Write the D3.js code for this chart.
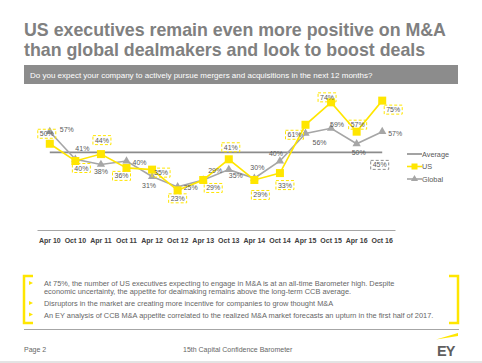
<!DOCTYPE html>
<html><head><meta charset="utf-8">
<script src="https://cdn.jsdelivr.net/npm/d3@7"></script>
<style>
html,body{margin:0;padding:0;background:#fff;}
svg{display:block;font-family:"Liberation Sans",Arial,sans-serif;}
</style></head>
<body><svg id="c" width="482" height="363"></svg>
<script>
const categories = ["Apr 10","Oct 10","Apr 11","Oct 11","Apr 12","Oct 12","Apr 13","Oct 13","Apr 14","Oct 14","Apr 15","Oct 15","Apr 16","Oct 16"];
const usValues = [50,40,44,36,35,23,29,41,29,33,61,74,57,75];
const globalValues = [57,41,38,40,31,25,29,35,30,40,56,59,50,57];
const averageValue = 45;
const seriesNames = ["Average","US","Global"];
// label offsets from the point (layout only)
const usLabelOff = [[-3,-10],[6,7],[1,-14],[-5,8],[9,3],[0,8],[10,8],[2,-12],[6,15],[5,12],[-11,10],[-4,-5],[1,-7],[11,9]];
const glLabelOff = [[17,-2],[7,-11],[0,7],[13,1],[-3,9],[13,1],[12,-9],[7,6],[3,-11],[-4,-8],[14,9],[6,-4],[2,9],[13,2]];
const avgLabelOff = [-2.5,12.5];

const svg = d3.select("#c");
const Y = "#FFE600", G = "#A6A6A6", AVG = "#8C8C8C", TXT = "#595959";

// Title
const title = svg.append("g").attr("fill","#808080").attr("font-weight","bold").attr("font-size","17.8px");
title.append("text").attr("x",24).attr("y",36).text("US executives remain even more positive on M&A");
title.append("text").attr("x",24).attr("y",55.5).text("than global dealmakers and look to boost deals");
svg.append("rect").attr("x",24).attr("y",65).attr("width",434).attr("height",19).attr("fill","#8C8C8C");
svg.append("text").attr("x",30).attr("y",77.5).attr("fill","#fff").attr("font-size","8px")
  .text("Do you expect your company to actively pursue mergers and acquisitions in the next 12 months?");

// Scales
const x = d3.scaleBand().domain(categories).range([37,395]);
const cx = d => x(d) + x.bandwidth()/2;
const y = d3.scaleLinear().domain([0,80]).range([230,92]);

// x axis
const xAxis = svg.append("g").attr("transform","translate(0,230)")
  .call(d3.axisBottom(x).tickSize(0).tickPadding(8));
xAxis.select(".domain").attr("stroke","#A6A6A6").attr("stroke-width",1);
xAxis.selectAll("text").attr("font-size","7px").attr("font-weight","bold").attr("fill","#404040")
  .attr("font-family","'Liberation Sans',Arial,sans-serif");

// average line
svg.append("line").attr("x1",cx(categories[0])).attr("x2",cx(categories[categories.length-1]))
  .attr("y1",y(averageValue)).attr("y2",y(averageValue)).attr("stroke",AVG).attr("stroke-width",1.6);

const line = d3.line().x((d,i)=>cx(categories[i])).y(d=>y(d));
svg.append("path").datum(globalValues).attr("d",line).attr("fill","none").attr("stroke",G).attr("stroke-width",1.6);
svg.append("path").datum(usValues).attr("d",line).attr("fill","none").attr("stroke",Y).attr("stroke-width",1.6);

const tri = d3.symbol().type(d3.symbolTriangle).size(30);
svg.append("g").selectAll("path").data(globalValues).join("path")
  .attr("d",tri).attr("fill",G)
  .attr("transform",(d,i)=>`translate(${cx(categories[i])},${y(d)})`);
svg.append("g").selectAll("rect").data(usValues).join("rect")
  .attr("x",(d,i)=>cx(categories[i])-4).attr("y",d=>y(d)-4).attr("width",8).attr("height",8).attr("fill",Y);

function label(g, px, py, txt, box, boxColor){
  if(box){
    g.append("rect").attr("x",px-9).attr("y",py-4.5).attr("width",18).attr("height",9)
      .attr("fill","none").attr("stroke",boxColor).attr("stroke-width",1).attr("stroke-dasharray","3,2");
  }
  g.append("text").attr("x",px).attr("y",py+2.5).attr("text-anchor","middle")
    .attr("font-size","7px").attr("fill",TXT).text(txt);
}
const lg = svg.append("g");
globalValues.forEach((v,i)=>{
  const [dx,dy]=glLabelOff[i];
  label(lg.append("g"), cx(categories[i])+dx, y(v)+dy, v+"%", false);
});
usValues.forEach((v,i)=>{
  const [dx,dy]=usLabelOff[i];
  label(lg.append("g"), cx(categories[i])+dx, y(v)+dy, v+"%", true, "#FFE600");
});
label(lg.append("g"), cx(categories[categories.length-1])+avgLabelOff[0], y(averageValue)+avgLabelOff[1], averageValue+"%", true, "#8C8C8C");

// legend
const leg = svg.append("g");
seriesNames.forEach((n,i)=>{
  const ly = 154 + i*12.5;
  const col = n==="Average"?AVG:(n==="US"?Y:G);
  leg.append("line").attr("x1",407).attr("x2",422).attr("y1",ly).attr("y2",ly).attr("stroke",col).attr("stroke-width",1.6);
  if(n==="US") leg.append("rect").attr("x",411.5).attr("y",ly-3).attr("width",6).attr("height",6).attr("fill",Y);
  if(n==="Global") leg.append("path").attr("d",d3.symbol().type(d3.symbolTriangle).size(22)()).attr("fill",G).attr("transform",`translate(414.5,${ly})`);
  leg.append("text").attr("x",422).attr("y",ly+2.5).attr("font-size","7.3px").attr("fill",TXT).text(n);
});

// bullets
const br = svg.append("g").attr("fill","none").attr("stroke",Y).attr("stroke-width",2.5);
br.append("path").attr("d","M33,276 H24 V323 H33");
br.append("path").attr("d","M449,276 H458 V323 H449");
const bullets = [
  ["At 75%, the number of US executives expecting to engage in M&A is at an all-time Barometer high. Despite",
   "economic uncertainty, the appetite for dealmaking remains above the long-term CCB average."],
  ["Disruptors in the market are creating more incentive for companies to grow thought M&A"],
  ["An EY analysis of CCB M&A appetite correlated to the realized M&A market forecasts an upturn in the first half of 2017."]
];
const bY = [286,306,317.5];
bullets.forEach((b,i)=>{
  svg.append("path").attr("d",`M29,${bY[i]-5} L33,${bY[i]-3} L29,${bY[i]-1} Z`).attr("fill",Y);
  b.forEach((s,j)=>{
    svg.append("text").attr("x",44).attr("y",bY[i]+j*8.3).attr("font-size","7.4px").attr("fill","#666").text(s);
  });
});
svg.append("line").attr("x1",24).attr("x2",459).attr("y1",329.5).attr("y2",329.5).attr("stroke","#A6A6A6").attr("stroke-width",1);

// footer
svg.append("text").attr("x",24).attr("y",352).attr("font-size","7px").attr("fill","#666").text("Page 2");
svg.append("text").attr("x",183).attr("y",352).attr("font-size","7px").attr("fill","#666").text("15th Capital Confidence Barometer");
svg.append("path").attr("d","M436,339.5 L458,333 L458,336 Z").attr("fill",Y);
svg.append("text").attr("x",437).attr("y",355.5).attr("font-size","14.5px").attr("font-weight","bold").attr("fill","#5F5F5F").attr("letter-spacing","-1").text("EY");
svg.append("line").attr("x1",0).attr("x2",482).attr("y1",362).attr("y2",362).attr("stroke","#C8C8C8").attr("stroke-width",1);
</script></body></html>
